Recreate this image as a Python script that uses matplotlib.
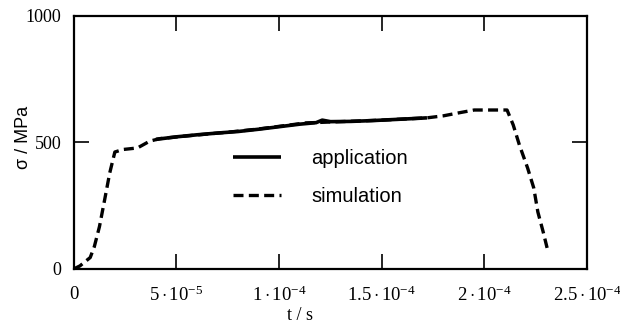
import matplotlib
matplotlib.use("Agg")
import matplotlib.pyplot as plt
from matplotlib.ticker import FixedLocator, FixedFormatter

# stress history, t in microseconds, sigma in MPa
t_sim = [0, 3, 8, 10, 12.5, 15, 17.5, 20, 24, 31, 37, 42, 58, 76, 90, 113,
         130, 150, 172, 180, 187, 195, 211, 214, 217, 221, 224, 226, 228.6, 230.5]
sig_sim = [0, 12, 45, 88, 167, 272, 379, 462, 472, 478, 505, 515, 528, 541, 553,
           577, 582, 588, 597, 605, 616, 628, 628, 569, 490, 399, 320, 225, 146, 83]

t_app = [40, 50, 60, 70, 80, 90, 100, 110, 118, 121, 125, 135, 145, 155, 165, 172]
sig_app = [512, 522, 530, 537, 543, 552, 562, 572, 578, 588, 582, 583, 586,
           590, 594, 597]

x_ticks = [0, 5e-5, 1e-4, 1.5e-4, 2e-4, 2.5e-4]
x_tick_labels = ["0", r"$5\cdot10^{-5}$", r"$1\cdot10^{-4}$", r"$1.5\cdot10^{-4}$",
                 r"$2\cdot10^{-4}$", r"$2.5\cdot10^{-4}$"]
y_ticks = [0, 500, 1000]
y_tick_labels = ["0", "500", "1000"]

plt.rcParams["mathtext.fontset"] = "custom"
plt.rcParams["mathtext.rm"] = "Liberation Serif"
plt.rcParams["mathtext.it"] = "Liberation Serif:italic"
plt.rcParams["font.family"] = "Liberation Serif"

fig = plt.figure(figsize=(6.2, 3.24), dpi=100)
ax = fig.add_axes([0.119, 0.170, 0.828, 0.781])

us = 1e-6
ax.plot([t * us for t in t_app], sig_app, color="black", lw=2.6,
        solid_capstyle="butt", label="application")
ax.plot([t * us for t in t_sim], sig_sim, color="black", lw=2.4,
        linestyle=(0, (3, 1.6)), label="simulation")

ax.set_xlim(0, 2.5e-4)
ax.set_ylim(0, 1000)
ax.xaxis.set_major_locator(FixedLocator(x_ticks))
ax.xaxis.set_major_formatter(FixedFormatter(x_tick_labels))
ax.yaxis.set_major_locator(FixedLocator(y_ticks))
ax.yaxis.set_major_formatter(FixedFormatter(y_tick_labels))
ax.tick_params(direction="in", length=11, width=1.2, top=True, right=True,
               labelsize=13, pad=9)
ax.tick_params(axis="x", labelsize=13.5, pad=12)
for sp in ax.spines.values():
    sp.set_linewidth(1.6)

ax.set_ylabel("σ / MPa", family="Liberation Sans", fontsize=13)
ax.yaxis.set_label_coords(-0.082, 0.52)
ax.set_xlabel("t / s", fontsize=13)
ax.xaxis.set_label_coords(0.44, -0.15)

ax.legend(loc="upper left", bbox_to_anchor=(0.31, 0.475), frameon=False,
          prop={"family": "Liberation Sans", "size": 14.5},
          handlelength=2.4, handletextpad=1.5, labelspacing=0.95,
          borderaxespad=0, borderpad=0)

fig.savefig("out.png", dpi=100)
